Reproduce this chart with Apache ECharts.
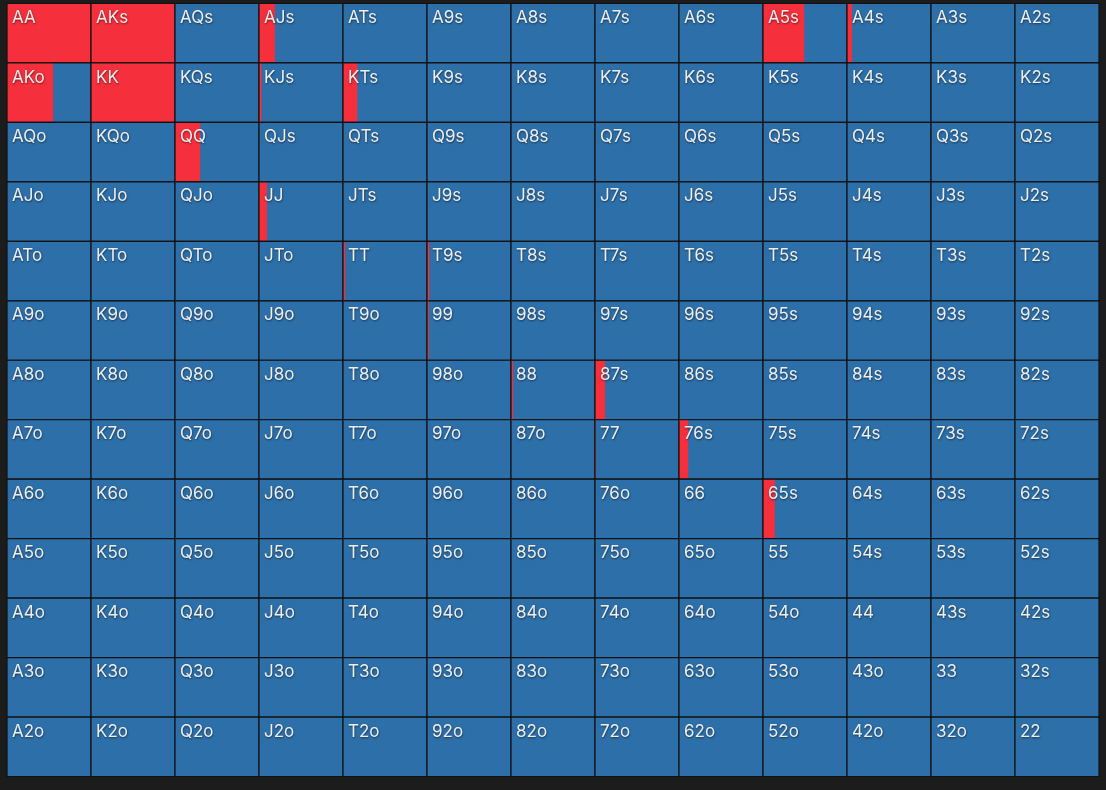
<!DOCTYPE html>
<html>
<head>
<meta charset="utf-8">
<script src="https://cdn.jsdelivr.net/npm/echarts@6/dist/echarts.min.js"></script>
<style>
html,body{margin:0;padding:0;background:#1c1c1c;}
#chart{width:1106px;height:790px;}
</style>
</head>
<body>
<div id="chart"></div>
<script>
const ranks = ['A','K','Q','J','T','9','8','7','6','5','4','3','2'];
// raise frequency (red share of each cell), rows = first rank, columns = second rank
const rowA = [1.00, 1.00, 0.00, 0.19, 0.00, 0.00, 0.00, 0.00, 0.00, 0.49, 0.06, 0.00, 0.00];
const rowK = [0.55, 1.00, 0.00, 0.03, 0.17, 0.00, 0.00, 0.00, 0.00, 0.00, 0.00, 0.00, 0.00];
const rowQ = [0.00, 0.00, 0.30, 0.00, 0.00, 0.00, 0.00, 0.00, 0.00, 0.00, 0.00, 0.00, 0.00];
const rowJ = [0.00, 0.00, 0.00, 0.095, 0.00, 0.00, 0.00, 0.00, 0.00, 0.00, 0.00, 0.00, 0.00];
const rowT = [0.00, 0.00, 0.00, 0.00, 0.025, 0.025, 0.00, 0.00, 0.00, 0.00, 0.00, 0.00, 0.00];
const row9 = [0.00, 0.00, 0.00, 0.00, 0.00, 0.02, 0.00, 0.00, 0.00, 0.00, 0.00, 0.00, 0.00];
const row8 = [0.00, 0.00, 0.00, 0.00, 0.00, 0.00, 0.025, 0.12, 0.00, 0.00, 0.00, 0.00, 0.00];
const row7 = [0.00, 0.00, 0.00, 0.00, 0.00, 0.00, 0.00, 0.01, 0.11, 0.00, 0.00, 0.00, 0.00];
const row6 = [0.00, 0.00, 0.00, 0.00, 0.00, 0.00, 0.00, 0.00, 0.00, 0.14, 0.00, 0.00, 0.00];
const row5 = [0.00, 0.00, 0.00, 0.00, 0.00, 0.00, 0.00, 0.00, 0.00, 0.00, 0.00, 0.00, 0.00];
const row4 = [0.00, 0.00, 0.00, 0.00, 0.00, 0.00, 0.00, 0.00, 0.00, 0.00, 0.00, 0.00, 0.00];
const row3 = [0.00, 0.00, 0.00, 0.00, 0.00, 0.00, 0.00, 0.00, 0.00, 0.00, 0.00, 0.00, 0.00];
const row2 = [0.00, 0.00, 0.00, 0.00, 0.00, 0.00, 0.00, 0.00, 0.00, 0.00, 0.00, 0.00, 0.00];
const raiseRows = [rowA,rowK,rowQ,rowJ,rowT,row9,row8,row7,row6,row5,row4,row3,row2];

function handLabel(i, j) {
  if (i === j) return ranks[i] + ranks[j];
  if (j > i) return ranks[i] + ranks[j] + 's';
  return ranks[j] + ranks[i] + 'o';
}

const data = [];
for (let i = 0; i < 13; i++) {
  for (let j = 0; j < 13; j++) {
    data.push([j, i, raiseRows[i][j], handLabel(i, j)]);
  }
}

const RED = '#f62f3c';
const BLUE = '#2d6fa9';

const chart = echarts.init(document.getElementById('chart'));
chart.setOption({
  backgroundColor: '#1c1c1c',
  animation: false,
  grid: { left: 7, top: 3.5, width: 1092, height: 773 },
  xAxis: { type: 'category', data: ranks, show: false, boundaryGap: true },
  yAxis: { type: 'category', data: ranks, show: false, inverse: true, boundaryGap: true },
  series: [{
    type: 'custom',
    data: data,
    renderItem: function (params, api) {
      const c = api.coord([api.value(0), api.value(1)]);
      const s = api.size([1, 1]);
      const x0 = c[0] - s[0] / 2, y0 = c[1] - s[1] / 2;
      const w = s[0], h = s[1];
      const f = api.value(2);
      const label = data[params.dataIndex][3];
      return {
        type: 'group',
        children: [
          { type: 'rect', shape: { x: x0, y: y0, width: w, height: h }, style: { fill: BLUE } },
          { type: 'rect', shape: { x: x0, y: y0, width: w * f, height: h }, style: { fill: RED } },
          { type: 'rect', shape: { x: x0, y: y0, width: w, height: h }, style: { fill: null, stroke: '#111', lineWidth: 1.2 } },
          { type: 'text', x: x0 + 5, y: y0 + 6, style: {
              text: label, fill: '#eeeeee', font: '17px Inter, "Noto Sans", sans-serif',
              textAlign: 'left', textVerticalAlign: 'top',
              textShadowColor: 'rgba(0,0,0,0.5)', textShadowBlur: 2, textShadowOffsetX: 0.5, textShadowOffsetY: 1
          } }
        ]
      };
    }
  }]
});
</script>
</body>
</html>
